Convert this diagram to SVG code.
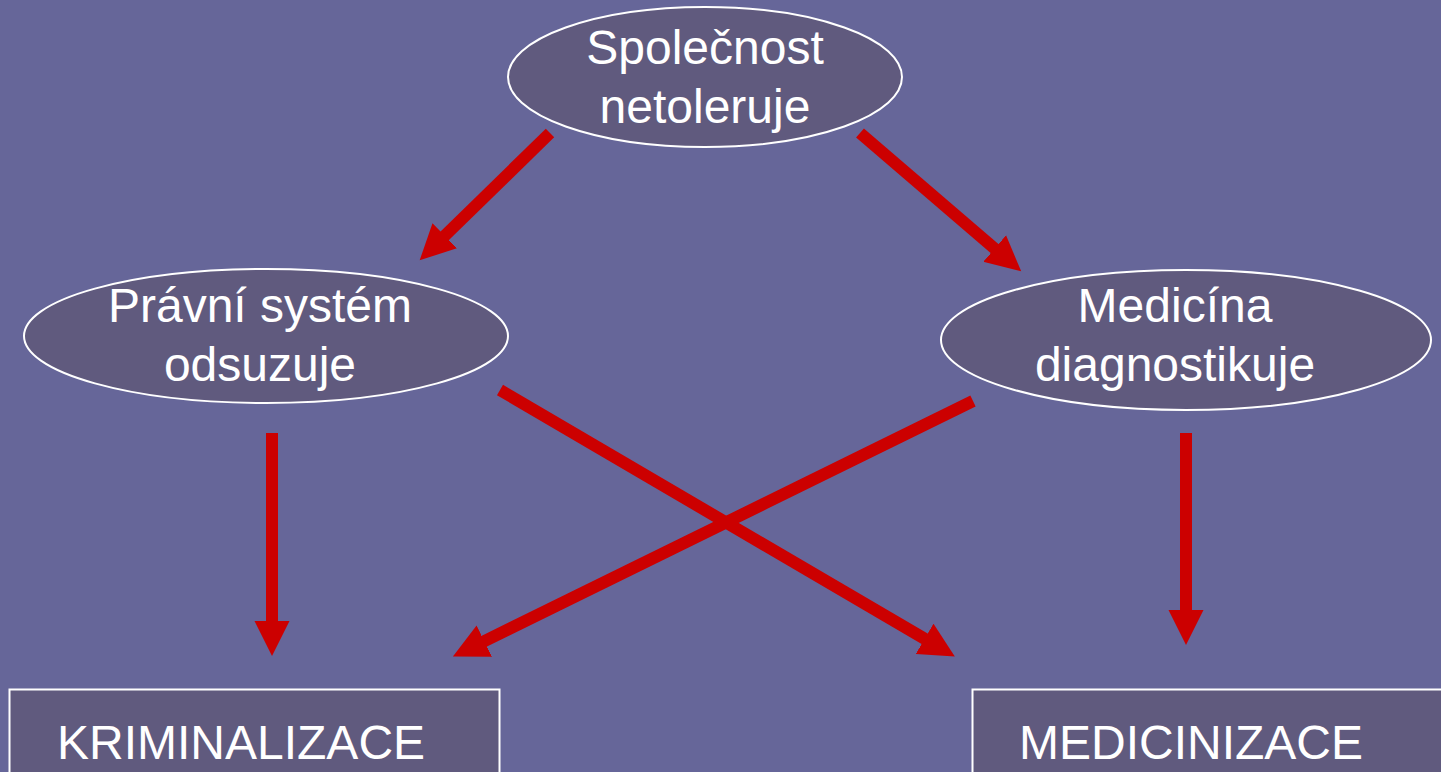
<svg xmlns="http://www.w3.org/2000/svg" width="1441" height="772" viewBox="0 0 1441 772">
  <style>
    .node { fill: #605A7E; stroke: #FFFFFF; stroke-width: 2; }
    .lbl { fill: #FFFFFF; font-family: "Liberation Sans", Arial, sans-serif; font-size: 48px; }
    .conn { stroke: #CC0000; stroke-width: 12; fill: none; stroke-linecap: butt; }
  </style>
  <defs>
    <marker id="ah" markerUnits="userSpaceOnUse" markerWidth="36" markerHeight="36" refX="1" refY="17.5" orient="auto" viewBox="0 0 36 35">
      <path d="M0,0 L35,17.5 L0,35 Z" fill="#CC0000"/>
    </marker>
  </defs>
  <rect x="0" y="0" width="1441" height="772" fill="#666699"/>

  <g id="connectors">
    <line class="conn" x1="550" y1="133" x2="444" y2="236.5" marker-end="url(#ah)"/>
    <line class="conn" x1="860" y1="133" x2="995.4" y2="249.2" marker-end="url(#ah)"/>
    <line class="conn" x1="272" y1="433" x2="272" y2="622" marker-end="url(#ah)"/>
    <line class="conn" x1="1186" y1="433" x2="1186" y2="611" marker-end="url(#ah)"/>
    <line class="conn" x1="500" y1="390" x2="925.5" y2="639.3" marker-end="url(#ah)"/>
    <line class="conn" x1="973" y1="401" x2="483.4" y2="641.6" marker-end="url(#ah)"/>
  </g>

  <g id="node-spolecnost">
    <ellipse class="node" cx="705" cy="77" rx="197" ry="70"/>
    <text class="lbl" x="705" y="64" text-anchor="middle">Společnost</text>
    <text class="lbl" x="705" y="123" text-anchor="middle">netoleruje</text>
  </g>

  <g id="node-pravni">
    <ellipse class="node" cx="266" cy="336" rx="242" ry="67"/>
    <text class="lbl" x="260" y="322" text-anchor="middle">Právní systém</text>
    <text class="lbl" x="260" y="381" text-anchor="middle">odsuzuje</text>
  </g>

  <g id="node-medicina">
    <ellipse class="node" cx="1186" cy="340" rx="245" ry="70"/>
    <text class="lbl" x="1175" y="322" text-anchor="middle">Medicína</text>
    <text class="lbl" x="1175" y="381" text-anchor="middle">diagnostikuje</text>
  </g>

  <g id="node-kriminalizace">
    <rect class="node" x="9.5" y="689.5" width="490" height="100"/>
    <text class="lbl" x="57" y="759">KRIMINALIZACE</text>
  </g>

  <g id="node-medicinizace">
    <rect class="node" x="972.5" y="689.5" width="480" height="100"/>
    <text class="lbl" x="1019" y="759">MEDICINIZACE</text>
  </g>
</svg>
